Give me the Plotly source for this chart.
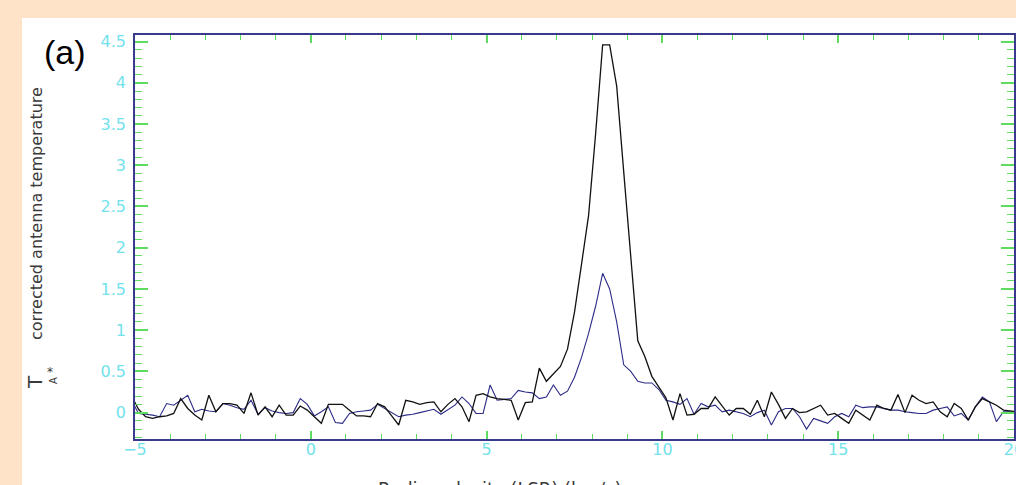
import numpy as np
import plotly.graph_objects as go

# Velocity channels (km/s), 0.2 km/s spacing
v_start = -5.1
v_step = 0.2

# Corrected antenna temperature T_A* for the two spectra
t_black = [
    0.20, 0.04, -0.05, -0.07, -0.05, -0.04, -0.01, 0.17, 0.05, -0.03,
    -0.09, 0.21, 0.01, 0.11, 0.11, 0.09, -0.01, 0.24, -0.03, 0.07,
    -0.05, 0.09, -0.03, -0.03, 0.08, 0.03, -0.05, -0.13, 0.10, 0.10,
    0.10, 0.03, -0.04, -0.04, -0.05, 0.11, 0.07, -0.04, -0.15, 0.15,
    0.13, 0.10, 0.12, 0.13, 0.01, 0.10, 0.17, 0.07, -0.11, 0.21,
    0.23, 0.19, 0.17, 0.16, 0.15, -0.09, 0.12, 0.13, 0.54, 0.38,
    0.47, 0.56, 0.77, 1.22, 1.80, 2.39, 3.38, 4.46, 4.46, 3.96,
    2.92, 1.89, 0.87, 0.68, 0.44, 0.31, 0.18, -0.09, 0.23, -0.03,
    -0.02, 0.05, 0.05, 0.19, 0.08, -0.03, 0.05, 0.05, -0.02, 0.15,
    -0.05, 0.25, 0.10, -0.07, 0.05, 0.00, 0.01, 0.05, 0.09, -0.03,
    -0.01, -0.07, -0.13, 0.03, -0.03, -0.09, 0.09, 0.05, 0.03, 0.22,
    0.00, 0.21, 0.15, 0.11, 0.13, 0.01, -0.05, 0.11, 0.05, -0.09,
    0.07, 0.17, 0.13, 0.09, 0.03, 0.02, 0.01,
]
t_blue = [
    0.15, -0.01, -0.02, -0.03, -0.05, 0.11, 0.09, 0.15, 0.21, 0.01,
    0.04, 0.02, 0.01, 0.11, 0.09, 0.06, 0.04, 0.15, -0.02, 0.06,
    0.02, 0.00, -0.01, 0.00, 0.17, 0.10, -0.04, 0.01, 0.07, -0.12,
    -0.13, -0.01, 0.01, 0.02, 0.03, 0.10, 0.05, 0.01, -0.05, -0.03,
    -0.02, 0.00, 0.02, 0.04, -0.02, 0.03, 0.09, 0.19, 0.11, -0.01,
    -0.01, 0.335, 0.15, 0.16, 0.17, 0.27, 0.25, 0.24, 0.17, 0.19,
    0.335, 0.21, 0.26, 0.43, 0.67, 0.96, 1.29, 1.69, 1.50, 1.10,
    0.58, 0.50, 0.38, 0.36, 0.36, 0.28, 0.15, 0.13, 0.10, 0.17,
    -0.02, 0.11, 0.07, 0.09, 0.01, 0.03, 0.01, -0.01, -0.05, 0.00,
    0.03, -0.15, 0.01, 0.05, 0.05, -0.05, -0.20, -0.07, -0.10, -0.13,
    -0.05, -0.01, -0.05, 0.09, 0.06, 0.07, 0.07, 0.05, 0.03, 0.03,
    0.01, 0.00, -0.01, -0.01, 0.03, 0.05, 0.07, -0.04, -0.01, -0.09,
    0.07, 0.19, 0.13, -0.11, 0.01, 0.01, 0.00,
]
velocity = [round(v_start + v_step * i, 2) for i in range(len(t_black))]

x_ticks = [-5, 0, 5, 10, 15, 20]
x_ticktext = ["\u22125", "0", "5", "10", "15", "20"]
y_ticks = [0, 0.5, 1, 1.5, 2, 2.5, 3, 3.5, 4, 4.5]
y_ticktext = ["0", "0.5", "1", "1.5", "2", "2.5", "3", "3.5", "4", "4.5"]

W, H = 1016, 485
L, R, T, B = 135, 2, 35, 46
pw, ph = W - L - R, H - T - B


def px(xp):
    return (xp - L) / pw


def py(yp):
    return (H - B - yp) / ph


FRAME = "#3a3a8c"
TICK = "#5fdc5f"
LABEL = "#72e2ec"
TITLE = "#3a3a3a"
BG = "#ffe3c8"

fig = go.Figure()
fig.add_trace(go.Scatter(x=velocity, y=t_blue, mode="lines",
                         line=dict(color="#2b2b88", width=1.1),
                         showlegend=False, hoverinfo="skip"))
fig.add_trace(go.Scatter(x=velocity, y=t_black, mode="lines",
                         line=dict(color="#111111", width=1.3),
                         showlegend=False, hoverinfo="skip"))

axis_font = dict(family="DejaVu Sans", size=16, color=LABEL)

fig.update_xaxes(
    range=[-5, 20], showgrid=False, zeroline=False, automargin=False,
    showline=True, linecolor=FRAME, linewidth=1.5, mirror="ticks",
    ticks="inside", ticklen=8, tickwidth=1.5, tickcolor=TICK,
    tickvals=x_ticks, ticktext=x_ticktext, tickfont=axis_font,
    ticklabeloverflow="allow", ticklabelstandoff=-5,
    minor=dict(dtick=1, ticks="inside", ticklen=5, tickwidth=1.2,
               tickcolor=TICK, showgrid=False),
)
fig.update_yaxes(
    range=[-0.32, 4.58], showgrid=False, zeroline=False, automargin=False,
    showline=True, linecolor=FRAME, linewidth=1.5, mirror="ticks",
    ticks="inside", ticklen=13, tickwidth=1.5, tickcolor=TICK,
    tickvals=y_ticks, ticktext=y_ticktext, tickfont=axis_font,
    ticklabelstandoff=4, ticklabeloverflow="allow",
    minor=dict(dtick=0.1, tick0=0, ticks="inside", ticklen=7, tickwidth=1.2,
               tickcolor=TICK, showgrid=False),
)

# White panel behind the plot
fig.add_shape(type="rect", xref="paper", yref="paper",
              x0=px(22), x1=px(W + 5), y0=py(H + 5), y1=py(18),
              fillcolor="white", line=dict(width=0), layer="below")

annotations = [
    dict(text="(a)", x=px(65), y=py(52), xanchor="center", yanchor="middle",
         font=dict(family="Liberation Sans", size=34, color="#000000")),
    dict(text="corrected antenna temperature", textangle=-90,
         x=px(37), y=py(214), xanchor="center", yanchor="middle",
         font=dict(family="DejaVu Sans", size=16, color=TITLE)),
    dict(text="T", textangle=-90, x=px(35), y=py(382),
         xanchor="center", yanchor="middle",
         font=dict(family="DejaVu Sans", size=20, color=TITLE)),
    dict(text="*", x=px(50), y=py(372), xanchor="center", yanchor="middle",
         font=dict(family="DejaVu Sans", size=12, color=TITLE)),
    dict(text="A", textangle=-90, x=px(53), y=py(381),
         xanchor="center", yanchor="middle",
         font=dict(family="DejaVu Sans", size=10, color=TITLE)),
    dict(text="Radio velocity (LSR) (km/s)", x=px(500), y=py(476),
         xanchor="center", yanchor="top",
         font=dict(family="DejaVu Sans", size=18, color=TITLE)),
]
for a in annotations:
    a.update(xref="paper", yref="paper", showarrow=False)

fig.update_layout(
    width=W, height=H,
    margin=dict(l=L, r=R, t=T, b=B, pad=0, autoexpand=False),
    paper_bgcolor=BG, plot_bgcolor="white",
    annotations=annotations,
)

fig.write_html("out.html")
